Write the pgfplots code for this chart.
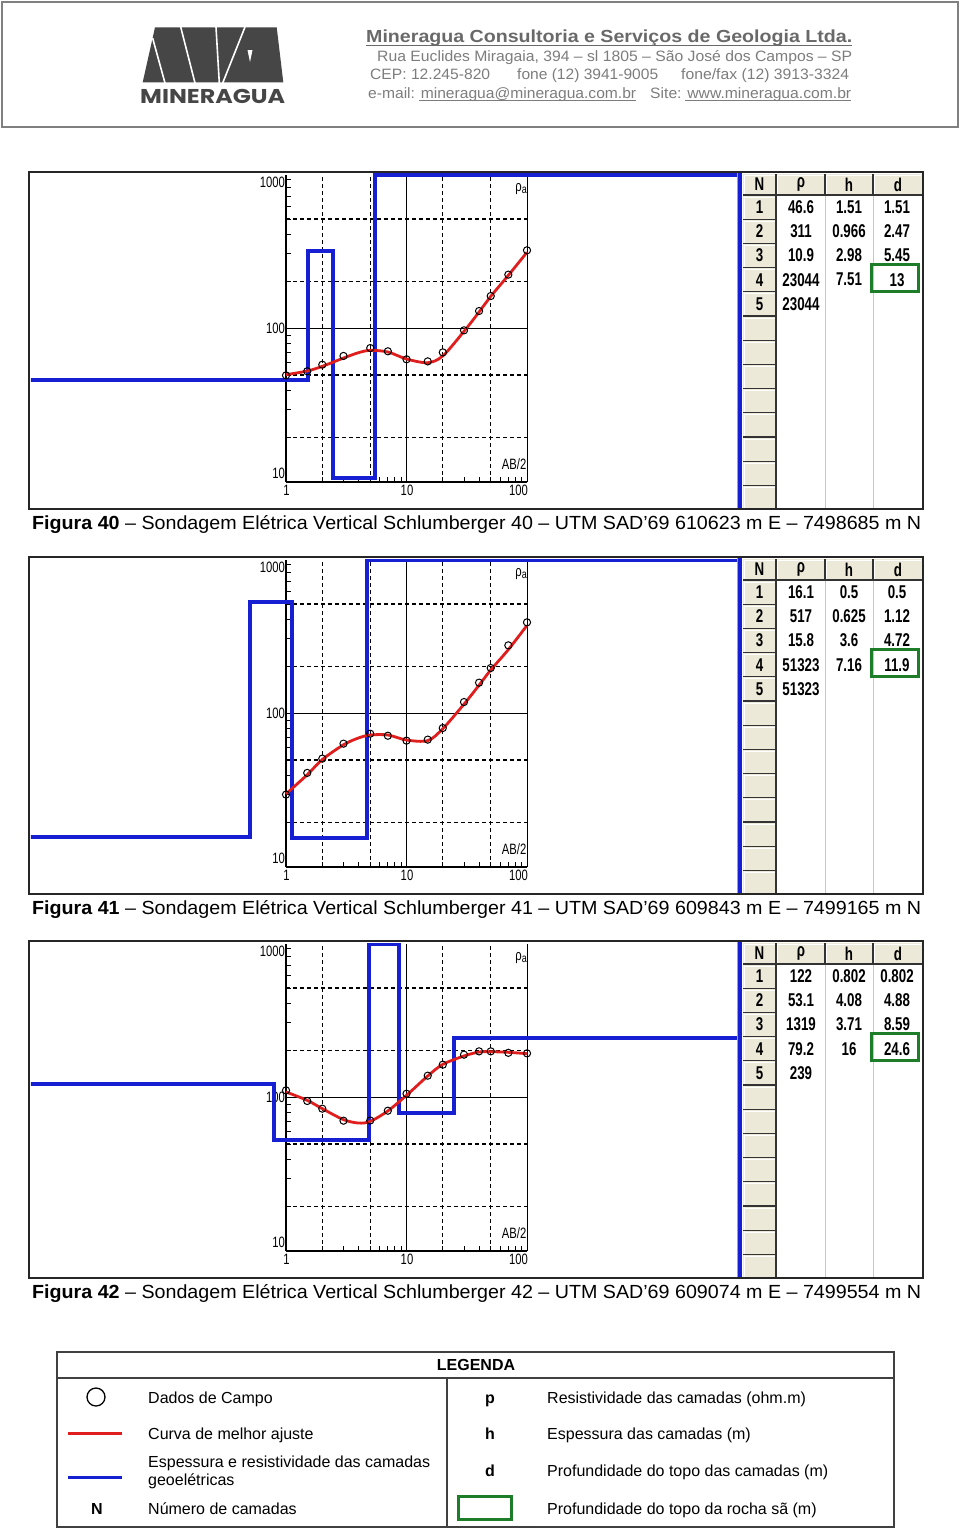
\documentclass[border=0pt]{standalone}
\usepackage{fontspec}
\setmainfont{Liberation Sans}
\newfontfamily\narrowfont[FakeStretch=0.75]{Liberation Sans}
\newfontfamily\tabfont[FakeStretch=0.72]{Liberation Sans}
\newfontfamily\logofont{Poppins}
\usepackage{graphicx}
\usepackage{pgfplots}
\pgfplotsset{compat=1.18}

\definecolor{sevblue}{RGB}{22,32,210}
\definecolor{sevred}{RGB}{225,30,30}
\definecolor{cellbg}{RGB}{236,233,216}
\definecolor{rockgreen}{RGB}{30,125,40}
\definecolor{hdrgray}{RGB}{105,105,105}
\definecolor{hdrlight}{RGB}{125,125,125}
\definecolor{logogray}{RGB}{70,70,70}

\tikzset{
 gridd/.style={black, line width=1.1pt, dash pattern=on 4pt off 3pt},
 grids/.style={black, line width=1pt},
}
\pgfplotsset{
 bluestep/.style={sevblue, line width=4pt, line join=miter},
 redfit/.style={sevred, line width=2.8pt, smooth},
 fieldpts/.style={only marks, mark=o, mark size=3.6pt, mark options={black, line width=1pt}},
}

\newcommand\fitw[2]{\resizebox{#1}{\height}{#2}}
\newcommand\tkf{\narrowfont\fontsize{15}{15}\selectfont}
\newcommand\tbf{\tabfont\bfseries\fontsize{18.5}{18.5}\selectfont}
\newcommand\legf{\fontsize{16}{16}\selectfont}

% ---------- panel: frame interior, inner axis with grid and ticks
\newcommand\panelA[1]{%
 \fill[white] (29,-#1) rectangle (923,-#1-337);
 \begin{axis}[at={(286pt,-#1pt-310pt)}, anchor=south west, scale only axis,
   width=241pt, height=307pt, xmode=log, ymode=log,
   xmin=1, xmax=100, ymin=10.3, ymax=957,
   axis x line*=bottom, axis y line*=left,
   xtick={1,10,100}, xticklabels={,,},
   minor xtick={2,3,4,5,6,7,8,9,20,30,40,50,60,70,80,90},
   ytick=\empty,
   extra y ticks={20,30,40,50,60,70,80,90,200,300,400,500,600,700,800,900},
   extra y tick labels={},
   tick align=inside, major tick length=5pt, minor tick length=5pt,
   every tick/.style={black, line width=0.9pt},
   axis line style={black, line width=1.3pt},
   clip=false]
  \addplot[draw=none] coordinates {(1,100)};
  \draw[gridd] (axis cs:2,10.3) -- (axis cs:2,957);
  \draw[gridd] (axis cs:5,10.3) -- (axis cs:5,957);
  \draw[gridd] (axis cs:20,10.3) -- (axis cs:20,957);
  \draw[gridd] (axis cs:50,10.3) -- (axis cs:50,957);
  \draw[grids] (axis cs:10,10.3) -- (axis cs:10,957);
  \draw[grids] (axis cs:100,10.3) -- (axis cs:100,957);
  \draw[gridd] (axis cs:1,20) -- (axis cs:100,20);
  \draw[gridd] (axis cs:1,50) -- (axis cs:100,50);
  \draw[gridd] (axis cs:1,200) -- (axis cs:100,200);
  \draw[gridd] (axis cs:1,500) -- (axis cs:100,500);
  \draw[grids] (axis cs:1,100) -- (axis cs:100,100);
 \end{axis}
 \node[anchor=east, inner sep=0] at (285,-#1-10) {\tkf 1000};
 \node[anchor=east, inner sep=0] at (285,-#1-156) {\tkf 100};
 \node[anchor=east, inner sep=0] at (285,-#1-301) {\tkf 10};
 \node[inner sep=0] at (286.5,-#1-318) {\tkf 1};
 \node[inner sep=0] at (407,-#1-318) {\tkf 10};
 \node[inner sep=0] at (518.5,-#1-318) {\tkf 100};
 \node[anchor=east, inner sep=0] at (527,-#1-17) {\tkf ρ\raisebox{-2pt}{\fontsize{12}{12}\selectfont a}};
 \node[anchor=east, inner sep=0] at (526.5,-#1-292) {\tkf AB/2};
}

% ---------- outer axis (whole drawing area) with the model, fit and data
\newcommand\panelB[2]{%
 \begin{axis}[at={(31pt,-#1pt-336pt)}, anchor=south west, scale only axis,
   width=709pt, height=334pt, xmode=log, ymode=log,
   xmin=0.00765, xmax=5856, ymin=7.017, ymax=971, hide axis,
   y filter/.code={\pgfmathparse{min(\pgfmathresult,6.8638)}}]
  #2
 \end{axis}
}

% ---------- table chrome
\newcommand\panelC[1]{%
 \fill[cellbg] (743,-#1-2) rectangle (922,-#1-23);
 \fill[cellbg] (743,-#1-23) rectangle (776,-#1-337);
 \draw[gray!45, line width=0.8pt] (825,-#1-23) -- (825,-#1-337) (873,-#1-23) -- (873,-#1-337);
 \draw[white, line width=1pt] (744,-#1-3.5) -- (921,-#1-3.5);
 \draw[white, line width=1pt] (744.5,-#1-3) -- (744.5,-#1-337);
 \draw[white, line width=1pt] (777.5,-#1-3) -- (777.5,-#1-22) (826.5,-#1-3) -- (826.5,-#1-22) (874.5,-#1-3) -- (874.5,-#1-22);
 \foreach \i in {0,...,12} {\draw[white, line width=1pt] (744,{-#1-25-24.2*\i}) -- (775,{-#1-25-24.2*\i});}
 \draw[black!80, line width=1.3pt] (743,-#1-23) -- (922,-#1-23);
 \draw[black!80, line width=1.3pt] (776,-#1-2) -- (776,-#1-337);
 \draw[black!80, line width=1.1pt] (825,-#1-2) -- (825,-#1-23) (873,-#1-2) -- (873,-#1-23);
 \foreach \i in {1,...,12} {\draw[black!80, line width=1.3pt] (743,{-#1-23-24.2*\i}) -- (776,{-#1-23-24.2*\i});}
 \fill[sevblue] (737,-#1-1) rectangle (742,-#1-336);
 \fill[sevblue!45] (737,-#1-1) rectangle (738.3,-#1-336);
 \node[inner sep=0] at (759.5,-#1-12.5) {\tbf N};
 \node[inner sep=0] at (801,-#1-12.5) {\tbf ρ};
 \node[inner sep=0] at (849,-#1-12.5) {\tbf h};
 \node[inner sep=0] at (898,-#1-12.5) {\tbf d};
}
\newcommand\trow[5]{%
 \node[inner sep=0] at (759.5,{-#1-23-24.2*(#2-0.5)}) {\tbf #2};
 \node[inner sep=0] at (801,{-#1-23-24.2*(#2-0.5)}) {\tbf #3};
 \node[inner sep=0] at (849,{-#1-23-24.2*(#2-0.5)}) {\tbf #4};
 \node[inner sep=0] at (897,{-#1-23-24.2*(#2-0.5)}) {\tbf #5};
}
\newcommand\panelD[1]{%
 \draw[rockgreen, line width=3pt] (871,-#1-92) rectangle (918,-#1-119);
 \draw[black!85, line width=2pt] (29,-#1) rectangle (923,-#1-337);
}
\newcommand\capt[4]{%
 \node[anchor=base west, inner sep=0] at (32,-#1-357) {\fitw{889pt}{\fontsize{19}{19}\selectfont\textbf{Figura #2} – Sondagem Elétrica Vertical Schlumberger #2 – UTM SAD’69 #3 m E – #4 m N}};
}

\begin{document}
\begin{tikzpicture}[x=1pt,y=1pt]
\useasboundingbox (0,0) rectangle (960,-1531);
\fill[white] (0,0) rectangle (960,-1531);

% ================= header
\draw[gray, line width=1.8pt] (2,-2) rectangle (958,-127);
\fill[logogray] (142.7,-82.3) -- (155,-27.3) -- (276.7,-27.3) -- (283.3,-82.3) -- cycle;
\draw[white, line width=1.6pt] (152.6,-38) -- (165,-83);
\draw[white, line width=1.6pt] (180.7,-27) -- (195,-83);
\draw[white, line width=1.6pt] (216,-27) -- (219.3,-83);
\draw[white, line width=1.6pt] (245,-27) -- (222.7,-83);
\fill[white] (247.5,-50) -- (252.5,-50) -- (250,-62) -- cycle;
\node[anchor=base west, inner sep=0, text=logogray] at (140,-103) {\fitw{145pt}{\logofont\bfseries\fontsize{20}{20}\selectfont MINERAGUA}};

\node[anchor=base west, inner sep=0, text=hdrgray] at (366,-42) {\fitw{486pt}{\bfseries\fontsize{17.5}{18}\selectfont Mineragua Consultoria e Serviços de Geologia Ltda.}};
\draw[hdrgray, line width=1pt] (366,-45.5) -- (852,-45.5);
\node[anchor=base west, inner sep=0, text=hdrlight] at (377,-61) {\fitw{475pt}{\fontsize{15}{15}\selectfont Rua Euclides Miragaia, 394 – sl 1805 – São José dos Campos – SP}};
\node[anchor=base west, inner sep=0, text=hdrlight] at (370,-79.5) {\fitw{120pt}{\fontsize{15}{15}\selectfont CEP: 12.245-820}};
\node[anchor=base west, inner sep=0, text=hdrlight] at (517,-79.5) {\fitw{141pt}{\fontsize{15}{15}\selectfont fone (12) 3941-9005}};
\node[anchor=base west, inner sep=0, text=hdrlight] at (681,-79.5) {\fitw{168pt}{\fontsize{15}{15}\selectfont fone/fax (12) 3913-3324}};
\node[anchor=base west, inner sep=0, text=hdrlight] at (368,-98) {\fitw{268pt}{\fontsize{15}{15}\selectfont e-mail: mineragua@mineragua.com.br}};
\node[anchor=base west, inner sep=0, text=hdrlight] at (650,-98) {\fitw{201pt}{\fontsize{15}{15}\selectfont Site: www.mineragua.com.br}};
\draw[hdrlight, line width=0.8pt] (419,-100.5) -- (636,-100.5) (685,-100.5) -- (851,-100.5);

% ================= panel 40
\panelA{172}
\panelB{172}{
 \addplot[bluestep] coordinates {(0.001,46.6) (1.51,46.6) (1.51,311) (2.47,311) (2.47,10.9) (5.45,10.9) (5.45,23044) (13,23044) (100000,23044)};
 \addplot[redfit] coordinates {(1,50.2) (1.5,53.0) (2,56.8) (3,64.2) (4,69.5) (5,71.9) (7,70.2) (10,63.3) (15,59.9) (20,66.2) (30,95.2) (40,126.6) (50,159.5) (70,217.6) (100,306)};
 \addplot[fieldpts] coordinates {(1,49.7) (1.5,52.8) (2,58.2) (3,66.2) (5,74.4) (7,70.9) (10,63.0) (15,61.1) (20,69.8) (30,96.6) (40,128.5) (50,160.3) (70,219.8) (100,314.8)};
}
\panelC{172}
\trow{172}{1}{46.6}{1.51}{1.51}
\trow{172}{2}{311}{0.966}{2.47}
\trow{172}{3}{10.9}{2.98}{5.45}
\trow{172}{4}{23044}{7.51}{13}
\trow{172}{5}{23044}{}{}
\panelD{172}
\capt{172}{40}{610623}{7498685}

% ================= panel 41
\panelA{557}
\panelB{557}{
 \addplot[bluestep] coordinates {(0.001,16.1) (0.5,16.1) (0.5,517) (1.12,517) (1.12,15.8) (4.72,15.8) (4.72,51323) (11.9,51323) (100000,51323)};
 \addplot[redfit] coordinates {(1,30.3) (1.5,40.2) (2,50.3) (3,62.6) (4,69.2) (5,72.3) (7,72.3) (10,67.1) (15,66.5) (20,79.3) (30,114.0) (40,150.7) (50,188.7) (70,254.9) (100,364.7)};
 \addplot[fieldpts] coordinates {(1,30.0) (1.5,41.3) (2,51.0) (3,63.6) (5,73.7) (7,71.5) (10,66.5) (15,67.5) (20,80.1) (30,117.6) (40,156.5) (50,194.3) (70,271.5) (100,381.2)};
}
\panelC{557}
\trow{557}{1}{16.1}{0.5}{0.5}
\trow{557}{2}{517}{0.625}{1.12}
\trow{557}{3}{15.8}{3.6}{4.72}
\trow{557}{4}{51323}{7.16}{11.9}
\trow{557}{5}{51323}{}{}
\panelD{557}
\capt{557}{41}{609843}{7499165}

% ================= panel 42
\panelA{941}
\panelB{941}{
 \addplot[bluestep] coordinates {(0.001,122) (0.802,122) (0.802,53.1) (4.88,53.1) (4.88,1319) (8.59,1319) (8.59,79.2) (24.6,79.2) (24.6,239) (100000,239)};
 \addplot[redfit] coordinates {(1,107.7) (1.5,95.2) (2,84.2) (3,71.6) (4,68.1) (5,69.8) (7,81.4) (10,102.5) (15,136.4) (20,161.9) (30,183.3) (40,194.3) (50,195.2) (70,193.4) (100,189.6)};
 \addplot[fieldpts] coordinates {(1,110.3) (1.5,94.3) (2,84.2) (3,70.5) (5,70.7) (7,81.7) (10,105.0) (15,137.0) (20,161.2) (30,186.8) (40,196.2) (50,196.2) (70,192) (100,190.5)};
}
\panelC{941}
\trow{941}{1}{122}{0.802}{0.802}
\trow{941}{2}{53.1}{4.08}{4.88}
\trow{941}{3}{1319}{3.71}{8.59}
\trow{941}{4}{79.2}{16}{24.6}
\trow{941}{5}{239}{}{}
\panelD{941}
\capt{941}{42}{609074}{7499554}

% ================= legend
\draw[black!75, line width=1.2pt] (57,-1352) rectangle (894,-1527);
\draw[black!75, line width=1.2pt] (57,-1378) -- (894,-1378);
\draw[black!75, line width=1.2pt] (447,-1378) -- (447,-1527);
\node[anchor=base, inner sep=0] at (476,-1370) {\legf\bfseries LEGENDA};
\draw[black, line width=1.3pt] (96,-1397) circle (9);
\node[anchor=base west, inner sep=0] at (148,-1403) {\legf Dados de Campo};
\draw[sevred, line width=3pt] (68,-1433) -- (122,-1433);
\node[anchor=base west, inner sep=0] at (148,-1439) {\legf Curva de melhor ajuste};
\draw[sevblue, line width=3pt] (68,-1477) -- (122,-1477);
\node[anchor=base west, inner sep=0] at (148,-1467) {\legf Espessura e resistividade das camadas};
\node[anchor=base west, inner sep=0] at (148,-1485) {\legf geoelétricas};
\node[anchor=base, inner sep=0] at (97,-1514) {\legf\bfseries N};
\node[anchor=base west, inner sep=0] at (148,-1514) {\legf Número de camadas};
\node[anchor=base, inner sep=0] at (490,-1403) {\legf\bfseries p};
\node[anchor=base west, inner sep=0] at (547,-1403) {\legf Resistividade das camadas (ohm.m)};
\node[anchor=base, inner sep=0] at (490,-1439) {\legf\bfseries h};
\node[anchor=base west, inner sep=0] at (547,-1439) {\legf Espessura das camadas (m)};
\node[anchor=base, inner sep=0] at (490,-1476) {\legf\bfseries d};
\node[anchor=base west, inner sep=0] at (547,-1476) {\legf Profundidade do topo das camadas (m)};
\draw[rockgreen, line width=3pt] (458,-1496) rectangle (511,-1519);
\node[anchor=base west, inner sep=0] at (547,-1514) {\legf Profundidade do topo da rocha sã (m)};
\end{tikzpicture}
\end{document}
